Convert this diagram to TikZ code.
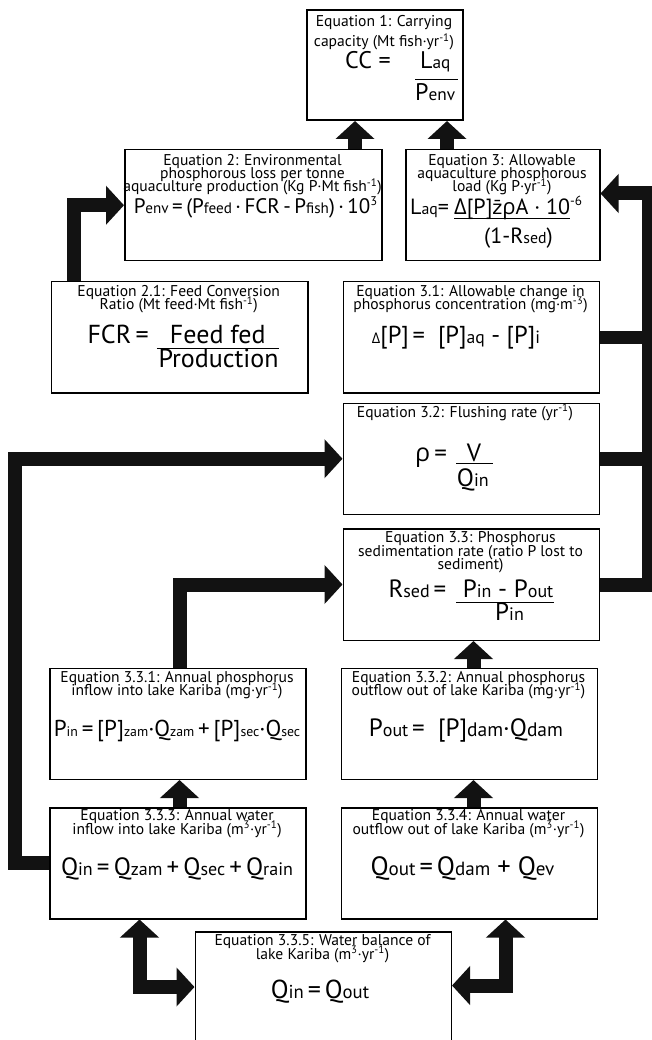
\documentclass[tikz,border=0pt]{standalone}
\usepackage{fontspec}
\setmainfont{PT Sans}
\newfontfamily\grk{Open Sans}
\newfontfamily\djv{DejaVu Sans}
\usepackage{graphicx}
\usetikzlibrary{arrows.meta}
\newcommand\sbs[1]{\scalebox{0.72}{#1}}
\newcommand\ssb[1]{\scalebox{0.6}{#1}}
\newcommand\sps[1]{\raisebox{0.42em}{\scalebox{0.6}{#1}}}
% fraction: #1 rule width, #2 rule below num baseline, #3 num, #4 den, #5 den baseline below rule
\newcommand\fr[5]{\vtop{\hbox to #1{\smash{#3}\hss}\kern#2\hrule height 1.1pt\kern#5\hbox{\smash{#4}}}}
\lineskiplimit=-100pt
\lineskip=0pt
\begin{document}
\begin{tikzpicture}[x=1pt,y=-1pt,
  eqbox/.style={draw=black, line width=1.5pt, inner sep=0pt, anchor=north west},
  captxt/.style={inner sep=0pt, anchor=base, align=center, font=\fontsize{15.6pt}{13.4pt}\selectfont},
  eqtxt/.style={inner sep=0pt, anchor=base west},
  arr/.style={draw=black!93, line width=14pt, line join=miter, -{Triangle[width=38pt,length=18pt]}},
  darr/.style={draw=black!93, line width=14pt, line join=miter, {Triangle[width=38pt,length=18pt]}-{Triangle[width=38pt,length=18pt]}},
  shaft/.style={draw=black!93, line width=13.5pt}]
\useasboundingbox (0,0) rectangle (652,1040);
\clip (0,0) rectangle (652,1040);
\fill[white] (0,0) rectangle (652,1040);

% boxes
\node[eqbox, minimum width=156pt, minimum height=110pt] (b1) at (306,9.5) {};
\node[eqbox, minimum width=257pt, minimum height=111pt] (b2) at (124,149) {};
\node[eqbox, minimum width=194pt, minimum height=111pt] (b3) at (405,149) {};
\node[eqbox, minimum width=256.5pt, minimum height=111pt] (b21) at (50.5,281) {};
\node[eqbox, minimum width=256pt, minimum height=111pt] (b31) at (342.5,281) {};
\node[eqbox, minimum width=256pt, minimum height=111pt] (b32) at (342.5,402.5) {};
\node[eqbox, minimum width=256pt, minimum height=111.5pt] (b33) at (342.5,528) {};
\node[eqbox, minimum width=256pt, minimum height=111pt] (b331) at (49,667.5) {};
\node[eqbox, minimum width=256pt, minimum height=111pt] (b332) at (340.5,667.5) {};
\node[eqbox, minimum width=256pt, minimum height=111pt] (b333) at (49,807) {};
\node[eqbox, minimum width=256pt, minimum height=111pt] (b334) at (340.5,807) {};
\node[eqbox, minimum width=256pt, minimum height=130pt] (b335) at (194.5,931) {};

% captions (node placed at baseline of last line)
\node[captxt, font=\fontsize{15.6pt}{20pt}\selectfont] (c1) at (384,47) {Equation 1: Carrying\\capacity (Mt fish·yr\textsuperscript{-1})};
\node[captxt] (c2) at (252.5,192) {Equation 2: Environmental\\phosphorous loss per tonne\\aquaculture production (Kg P·Mt fish\textsuperscript{-1})};
\node[captxt] (c3) at (502,192) {Equation 3: Allowable\\aquaculture phosphorous\\load (Kg P·yr\textsuperscript{-1})};
\node[captxt] (c21) at (178.75,309.5) {Equation 2.1: Feed Conversion\\Ratio (Mt feed·Mt fish\textsuperscript{-1})};
\node[captxt] (c31) at (470.5,309.5) {Equation 3.1: Allowable change in\\phosphorus concentration (mg·m\textsuperscript{-3})};
\node[captxt] (c32) at (465,417) {Equation 3.2: Flushing rate (yr\textsuperscript{-1})};
\node[captxt] (c33) at (470.5,569.5) {Equation 3.3: Phosphorus\\sedimentation rate (ratio P lost to\\sediment)};
\node[captxt] (c331) at (177,695.5) {Equation 3.3.1: Annual phosphorus\\inflow into lake Kariba (mg·yr\textsuperscript{-1})};
\node[captxt] (c332) at (468.5,695.5) {Equation 3.3.2: Annual phosphorus\\outflow out of lake Kariba (mg·yr\textsuperscript{-1})};
\node[captxt] (c333) at (177,834) {Equation 3.3.3: Annual water\\inflow into lake Kariba (m\textsuperscript{3}·yr\textsuperscript{-1})};
\node[captxt] (c334) at (468.5,834) {Equation 3.3.4: Annual water\\outflow out of lake Kariba (m\textsuperscript{3}·yr\textsuperscript{-1})};
\node[captxt] (c335) at (322.5,959) {Equation 3.3.5: Water balance of\\lake Kariba (m\textsuperscript{3}·yr\textsuperscript{-1})};

% formulas
\node[eqtxt, font=\fontsize{24pt}{27pt}\selectfont] (f1a) at (345,68.3) {CC\hspace{0.28em}=};
\node[eqtxt, font=\fontsize{24pt}{27pt}\selectfont] (f1b) at (415,68.3) {\fr{43pt}{11pt}{\hspace*{5pt}L\sbs{aq}}{P\sbs{env}}{20.5pt}};
\node[inner sep=0pt, anchor=base, font=\fontsize{21pt}{24pt}\selectfont] (f2) at (255.5,214) {P\sbs{env}\,=\,(P\sbs{feed}\,·\,FCR\,-\,P\sbs{fish})\,·\,10\sps{3}};
\node[eqtxt, font=\fontsize{22pt}{25pt}\selectfont] (f3a) at (410,215) {L\sbs{aq}=};
\node[eqtxt, font=\fontsize{22pt}{25pt}\selectfont] (f3b) at (454,215) {\fr{116pt}{3.3pt}{{\grk Δ}[P]{\djv\fontsize{19pt}{20pt}\selectfont z̄}{\grk ρ}A · 10\sps{-6}}{\hspace*{30pt}(1-R\sbs{sed})}{24.6pt}};
\node[eqtxt, font=\fontsize{26pt}{29pt}\selectfont] (f21a) at (87.3,343.3) {FCR\,=};
\node[eqtxt, font=\fontsize{26pt}{29pt}\selectfont] (f21b) at (156.7,343.3) {\fr{115pt}{5pt}{\hspace*{13pt}Feed fed}{\hspace*{1.6pt}Production}{18.3pt}};
\node[eqtxt, font=\fontsize{24.5pt}{27pt}\selectfont] (f31) at (371.7,343.3) {{\grk\ssb{Δ}}[P]\hspace{0.15em}=\ \ [P]\sbs{aq} - [P]\sbs{i}};
\node[eqtxt, font=\fontsize{25pt}{28pt}\selectfont] (f32a) at (415,461.7) {{\grk ρ}\,=};
\node[eqtxt, font=\fontsize{25pt}{28pt}\selectfont] (f32b) at (456,461.7) {\fr{37pt}{1.6pt}{\hspace*{10.7pt}V}{\hspace*{0.7pt}Q\sbs{in}}{22.3pt}};
\node[eqtxt, font=\fontsize{25pt}{28pt}\selectfont] (f33a) at (388.3,597.3) {R\sbs{sed}\hspace{0.15em}=};
\node[eqtxt, font=\fontsize{25pt}{28pt}\selectfont] (f33b) at (456,597.3) {\fr{98pt}{4.4pt}{\hspace*{6.7pt}P\sbs{in} - P\sbs{out}}{\hspace*{39pt}P\sbs{in}}{17.2pt}};
\node[inner sep=0pt, anchor=base, font=\fontsize{23pt}{26pt}\selectfont] (f331) at (177,736.7) {P\ssb{in}\,=\,[P]\ssb{zam}·Q\ssb{zam}\,+\,[P]\ssb{sec}·Q\ssb{sec}};
\node[eqtxt, font=\fontsize{25pt}{28pt}\selectfont] (f332) at (368.7,736.7) {P\sbs{out}\hspace{0.15em}=\ \ [P]\scalebox{0.78}{dam}·Q\scalebox{0.78}{dam}};
\node[inner sep=0pt, anchor=base, font=\fontsize{25pt}{28pt}\selectfont] (f333) at (177,875) {Q\sbs{in}\,=\,Q\sbs{zam}\,+\,Q\sbs{sec}\,+\,Q\sbs{rain}};
\node[eqtxt, font=\fontsize{26.5pt}{29pt}\selectfont] (f334) at (370.3,875) {Q\sbs{out}\hspace{0.15em}=\hspace{0.15em}Q\sbs{dam} + Q\sbs{ev}};
\node[eqtxt, font=\fontsize{26pt}{29pt}\selectfont] (f335) at (270.7,998) {Q\sbs{in}\hspace{0.15em}=\hspace{0.15em}Q\sbs{out}};

% helper coordinates
\coordinate (x1) at (355,0);
\coordinate (x2) at (447,0);
\coordinate (x3) at (74,0);
\coordinate (xr) at (648.5,0);
\coordinate (r3) at (0,193.5);
\coordinate (xl) at (15,0);
\coordinate (xm) at (179.5,0);
\coordinate (xq) at (473.5,0);
\coordinate (xd) at (139.5,0);
\coordinate (yd) at (0,987);
\coordinate (xe) at (505.5,0);
\coordinate (ye) at (0,985.5);

% connectors
\draw[arr] (x1 |- b2.north) -- (x1 |- b1.south);
\draw[arr] (x2 |- b3.north) -- (x2 |- b1.south);
\draw[arr] (x3 |- b21.north) |- (b2.west);
\draw[shaft] (b31.east) -- (xr |- b31.east);
\draw[shaft] (b32.east) -- (xr |- b32.east);
\draw[arr] (b33.east) -| (xr |- r3) -- (b3.east |- r3);
\draw[arr] (b333.west) -| (xl |- b32.west) -- (b32.west);
\draw[arr] (xm |- b331.north) |- (b33.west);
\draw[arr] (xm |- b333.north) -- (xm |- b331.south);
\draw[arr] (xq |- b332.north) -- (xq |- b33.south);
\draw[arr] (xq |- b334.north) -- (xq |- b332.south);
\draw[darr] (xd |- b333.south) |- (b335.west |- yd);
\draw[darr] (xe |- b334.south) |- (b335.east |- ye);
\end{tikzpicture}
\end{document}
